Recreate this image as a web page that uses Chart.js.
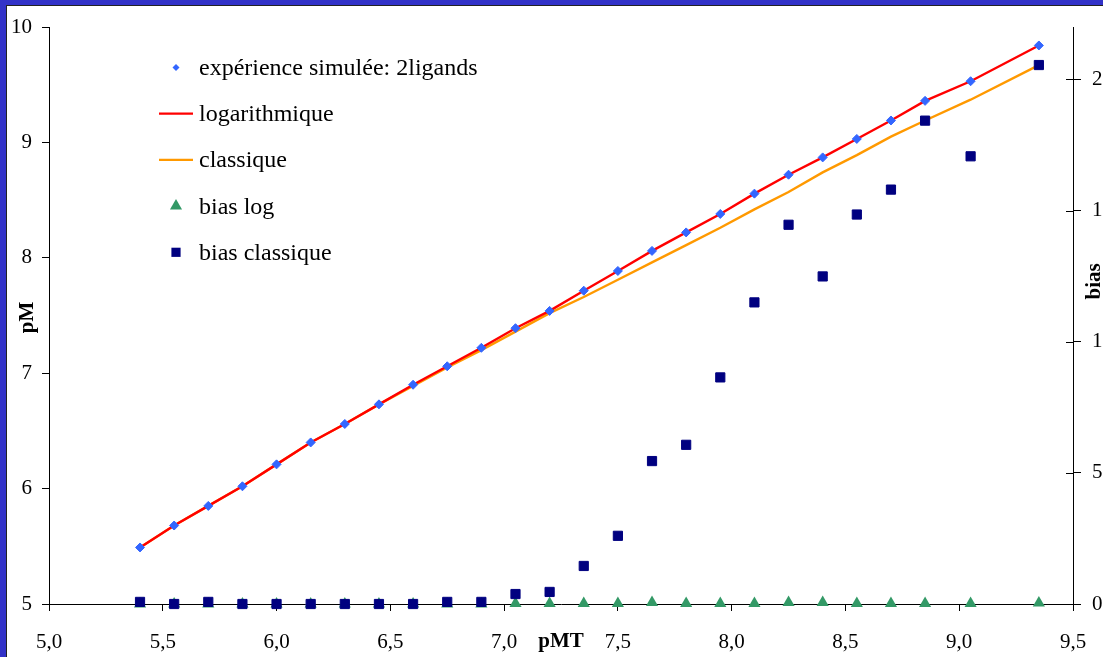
<!DOCTYPE html>
<html><head><meta charset="utf-8">
<script src="https://cdn.jsdelivr.net/npm/chart.js@4/dist/chart.umd.min.js"></script>
<style>
html,body{margin:0;padding:0;overflow:hidden;background:#fff;width:1103px;height:657px;}
#wrap{position:absolute;left:0;top:0;width:1160px;height:657px;}
#fT{position:absolute;left:0;top:0;width:1103px;height:5px;background:#3232c8;}
#fL{position:absolute;left:0;top:0;width:6px;height:657px;background:#3232c8;}
#fT2{position:absolute;left:6px;top:5px;width:1097px;height:1px;background:#222;}
#fL2{position:absolute;left:6px;top:5px;width:1px;height:652px;background:#222;}
</style></head>
<body>
<div id="wrap"><canvas id="c" width="1160" height="657"></canvas></div>
<div id="fT"></div><div id="fL"></div><div id="fT2"></div><div id="fL2"></div>
<script>
const pMT = [5.40,5.55,5.70,5.85,6.00,6.15,6.30,6.45,6.60,6.75,6.90,7.05,7.20,7.35,7.50,7.65,7.80,7.95,8.10,8.25,8.40,8.55,8.70,8.85,9.05,9.35];
const pMExp = [5.49,5.68,5.85,6.02,6.21,6.40,6.56,6.73,6.90,7.06,7.22,7.39,7.54,7.715,7.886,8.06,8.22,8.38,8.556,8.72,8.87,9.03,9.19,9.36,9.53,9.84];
const pMLog = [5.49,5.68,5.85,6.02,6.21,6.40,6.56,6.73,6.90,7.06,7.22,7.39,7.54,7.715,7.886,8.06,8.22,8.38,8.556,8.72,8.87,9.03,9.19,9.36,9.53,9.84];
const pMClassic = [5.49,5.68,5.85,6.02,6.21,6.40,6.56,6.73,6.89,7.05,7.20,7.36,7.52,7.66,7.81,7.96,8.11,8.26,8.42,8.57,8.74,8.89,9.05,9.19,9.37,9.67];
const biasLog = [0,0,0,0,0,0,0,0,0,0,0,0.02,0.02,0.02,0.02,0.06,0.02,0.02,0.02,0.06,0.06,0.02,0.02,0.02,0.02,0.04];
const biasClassic = [0.08,0,0.08,0,0,0,0,0,0,0.08,0.08,0.38,0.46,1.45,2.6,5.45,6.07,8.64,11.5,14.46,12.49,14.85,15.8,18.43,17.07,20.55];
const xTickLabels = ['5,0','5,5','6,0','6,5','7,0','7,5','8,0','8,5','9,0','9,5'];
const yLeftTickLabels = ['5','6','7','8','9','10'];
const yRightTickLabels = ['0','5','10','15','20'];
const seriesNames = ['expérience simulée: 2ligands','logarithmique','classique','bias log','bias classique'];
const axisTitles = {x:'pMT', y:'pM', y1:'bias'};

const toXY = ys => pMT.map((x,i)=>({x:x, y:ys[i]}));
const FONT = '"Liberation Serif", "Times New Roman", serif';
Chart.defaults.font.family = FONT;
Chart.defaults.font.size = 21;
Chart.defaults.color = '#000';

function drawMarker(ctx, style, x, y, r, color){
  ctx.fillStyle = color; ctx.beginPath();
  if (style==='rectRot'){ ctx.moveTo(x, y-r); ctx.lineTo(x+r, y); ctx.lineTo(x, y+r); ctx.lineTo(x-r, y); }
  else if (style==='triangle'){ ctx.moveTo(x, y-r); ctx.lineTo(x+r*0.866, y+r/2); ctx.lineTo(x-r*0.866, y+r/2); }
  else { const s=r*Math.SQRT1_2; ctx.rect(x-s, y-s, 2*s, 2*s); }
  ctx.closePath(); ctx.fill();
}

const extras = {
  id:'extras',
  afterDraw(chart){
    const ctx = chart.ctx, xs = chart.scales.x, ys = chart.scales.y, y1 = chart.scales.y1, ca = chart.chartArea;
    ctx.save();
    ctx.strokeStyle='#000'; ctx.lineWidth=1;
    y1.ticks.forEach(t=>{ const py=Math.round(y1.getPixelForValue(t.value))+0.5; ctx.beginPath(); ctx.moveTo(y1.left-7,py); ctx.lineTo(y1.left,py); ctx.stroke(); });
    ctx.fillStyle='#000'; ctx.font='bold 21px '+FONT; ctx.textAlign='center'; ctx.textBaseline='middle';
    ctx.fillText(axisTitles.x, (ca.left+ca.right)/2, xs.top+38);
    ctx.save(); ctx.translate(28,(ca.top+ca.bottom)/2+2); ctx.rotate(-Math.PI/2); ctx.fillText(axisTitles.y,0,0); ctx.restore();
    ctx.save(); ctx.translate(1095,y1.getPixelForValue(12.3)); ctx.rotate(-Math.PI/2); ctx.fillText(axisTitles.y1,0,0); ctx.restore();
    // legend
    ctx.font='24px '+FONT; ctx.textAlign='left'; ctx.textBaseline='alphabetic';
    chart.data.datasets.forEach((ds,i)=>{
      const cy = 67.5 + i*46.2;
      if (ds.showLine===false){
        drawMarker(ctx, ds.pointStyle, 176, cy, ds.legendR, ds.pointBackgroundColor);
      } else {
        ctx.strokeStyle=ds.borderColor; ctx.lineWidth=2.25; ctx.beginPath(); ctx.moveTo(159,cy); ctx.lineTo(193,cy); ctx.stroke();
      }
      ctx.fillStyle='#000'; ctx.fillText(ds.label, 199, cy+7.5);
    });
    ctx.restore();
  }
};

new Chart(document.getElementById('c'), {
  type:'line',
  data:{datasets:[
    {label:seriesNames[0], data:toXY(pMExp), yAxisID:'y', showLine:false, pointStyle:'rectRot', pointRadius:4.5, pointBackgroundColor:'#3366ff', pointBorderColor:'#3366ff', pointBorderWidth:1, legendR:3.5, order:2, clip:false},
    {label:seriesNames[1], data:toXY(pMLog), yAxisID:'y', borderColor:'#ff0000', borderWidth:2.4, pointRadius:0, tension:0, order:3, clip:false},
    {label:seriesNames[2], data:toXY(pMClassic), yAxisID:'y', borderColor:'#ff9900', borderWidth:2.4, pointRadius:0, tension:0, order:4, clip:false},
    {label:seriesNames[3], data:toXY(biasLog), yAxisID:'y1', showLine:false, pointStyle:'triangle', pointRadius:7, pointBackgroundColor:'#339966', pointBorderColor:'#339966', pointBorderWidth:0, legendR:7, order:1, clip:false},
    {label:seriesNames[4], data:toXY(biasClassic), yAxisID:'y1', showLine:false, pointStyle:'rect', pointRadius:6.5, pointBackgroundColor:'#000080', pointBorderColor:'#000080', pointBorderWidth:1, legendR:6.5, order:0, clip:false}
  ]},
  options:{
    responsive:false, animation:false, devicePixelRatio:1, events:[],
    layout:{padding:{top:27,left:0,right:0,bottom:0}},
    plugins:{legend:{display:false}, tooltip:{enabled:false}, title:{display:false}},
    scales:{
      x:{type:'linear', position:'bottom', min:5, max:9.5,
         ticks:{stepSize:0.5, autoSkip:false, maxRotation:0, padding:19, color:'#000', callback:(v,i)=>xTickLabels[i]},
         grid:{drawOnChartArea:false, tickLength:7, color:'#000', lineWidth:1}, border:{color:'#000', width:1},
         afterFit(s){ s.height=53; }},
      y:{type:'linear', position:'left', min:5, max:10,
         ticks:{stepSize:1, padding:10, color:'#000', callback:(v,i)=>yLeftTickLabels[i]},
         grid:{drawOnChartArea:false, tickLength:7, color:'#000', lineWidth:1}, border:{color:'#000', width:1},
         afterFit(s){ s.width=49; }},
      y1:{type:'linear', position:'right', min:0, max:22,
         ticks:{stepSize:5, includeBounds:false, padding:11, color:'#000', callback:(v,i)=>yRightTickLabels[i]},
         grid:{drawOnChartArea:false, tickLength:8, color:'#000', lineWidth:1}, border:{color:'#000', width:1},
         afterFit(s){ s.width=87; }}
    }
  },
  plugins:[extras]
});
</script>
</body></html>
